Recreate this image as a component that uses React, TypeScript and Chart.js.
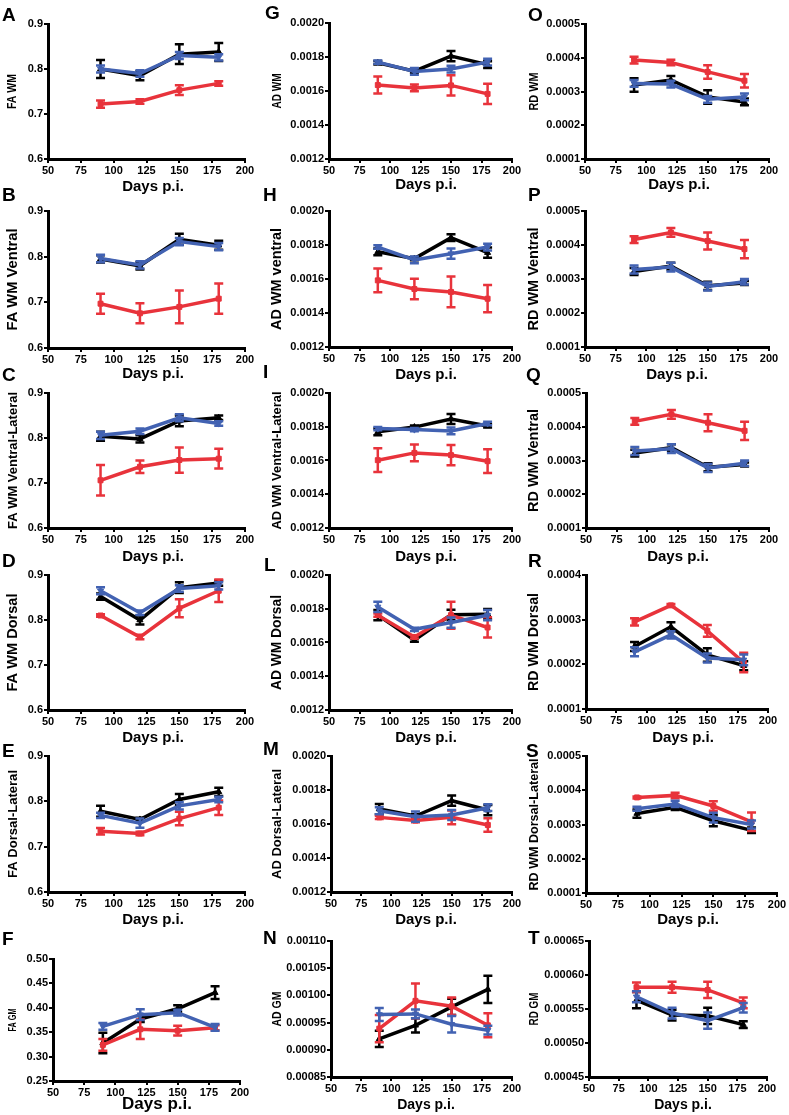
import React, { useEffect, useRef } from "react";
import { Chart, registerables } from "chart.js";
Chart.register(...registerables);

const FONT = "'Liberation Sans', Arial, Helvetica, sans-serif";
const BLACK = "#000000";
const RED = "#e8333b";
const BLUE = "#4262b2";

// ---------- shared axes ----------
const DAYS = [90, 120, 150, 180];
const X_TICKS = [50, 75, 100, 125, 150, 175, 200];
const X_TITLE = "Days p.i.";
const FA_TICKS = [0.6, 0.7, 0.8, 0.9];
const FA_GM_TICKS = [0.25, 0.3, 0.35, 0.4, 0.45, 0.5];
const AD_TICKS = [0.0012, 0.0014, 0.0016, 0.0018, 0.002];
const AD_GM_TICKS = [0.00085, 0.0009, 0.00095, 0.001, 0.00105, 0.0011];
const RD_TICKS = [0.0001, 0.0002, 0.0003, 0.0004, 0.0005];
const RD_DORSAL_TICKS = [0.0001, 0.0002, 0.0003, 0.0004];
const RD_GM_TICKS = [0.00045, 0.0005, 0.00055, 0.0006, 0.00065];

// ---------- FA ----------
const A_black = [0.8, 0.785, 0.833, 0.838];
const A_black_sem = [0.02, 0.01, 0.022, 0.02];
const A_red = [0.722, 0.728, 0.753, 0.768];
const A_red_sem = [0.008, 0.005, 0.011, 0.005];
const A_blue = [0.8, 0.79, 0.83, 0.826];
const A_blue_sem = [0.008, 0.007, 0.008, 0.007];

const B_black = [0.795, 0.78, 0.838, 0.825];
const B_black_sem = [0.008, 0.008, 0.012, 0.01];
const B_red = [0.697, 0.676, 0.69, 0.708];
const B_red_sem = [0.022, 0.022, 0.036, 0.033];
const B_blue = [0.796, 0.782, 0.833, 0.822];
const B_blue_sem = [0.008, 0.008, 0.008, 0.008];

const C_black = [0.804, 0.798, 0.838, 0.845];
const C_black_sem = [0.01, 0.008, 0.012, 0.005];
const C_red = [0.706, 0.736, 0.751, 0.754];
const C_red_sem = [0.034, 0.014, 0.028, 0.022];
const C_blue = [0.806, 0.815, 0.845, 0.832];
const C_blue_sem = [0.008, 0.006, 0.008, 0.005];

const D_black = [0.852, 0.8, 0.872, 0.882];
const D_black_sem = [0.007, 0.01, 0.012, 0.006];
const D_red = [0.81, 0.762, 0.826, 0.865];
const D_red_sem = [0.003, 0.005, 0.02, 0.025];
const D_blue = [0.865, 0.816, 0.87, 0.876];
const D_blue_sem = [0.008, 0.005, 0.007, 0.008];

const E_black = [0.778, 0.76, 0.804, 0.821];
const E_black_sem = [0.012, 0.004, 0.012, 0.009];
const E_red = [0.734, 0.729, 0.762, 0.786];
const E_red_sem = [0.007, 0.004, 0.015, 0.016];
const E_blue = [0.769, 0.752, 0.79, 0.804];
const E_blue_sem = [0.006, 0.01, 0.008, 0.006];

const F_black = [0.328, 0.377, 0.398, 0.431];
const F_black_sem = [0.021, 0.006, 0.007, 0.013];
const F_red = [0.324, 0.356, 0.353, 0.359];
const F_red_sem = [0.012, 0.02, 0.01, 0.005];
const F_blue = [0.362, 0.386, 0.39, 0.36];
const F_blue_sem = [0.007, 0.011, 0.006, 0.007];

// ---------- AD ----------
const G_black = [0.001766, 0.001717, 0.001805, 0.001755];
const G_black_sem = [0.00001, 0.00001, 0.00003, 0.00002];
const G_red = [0.001635, 0.001618, 0.001633, 0.001583];
const G_red_sem = [0.00005, 0.00002, 0.00006, 0.00006];
const G_blue = [0.00177, 0.001715, 0.001729, 0.00177];
const G_blue_sem = [0.00001, 0.00002, 0.00002, 0.00002];

const H_black = [0.00176, 0.00172, 0.001843, 0.001755];
const H_black_sem = [0.00002, 0.00001, 0.00002, 0.00003];
const H_red = [0.001592, 0.001541, 0.001524, 0.001484];
const H_red_sem = [0.00007, 0.00006, 0.00009, 0.00008];
const H_blue = [0.001788, 0.001712, 0.001749, 0.001788];
const H_blue_sem = [0.00001, 0.00002, 0.00003, 0.00002];

const I_black = [0.00177, 0.001798, 0.001846, 0.001805];
const I_black_sem = [0.00002, 0.00001, 0.00003, 0.00001];
const I_red = [0.001602, 0.001645, 0.001632, 0.001596];
const I_red_sem = [0.00007, 0.00005, 0.00006, 0.00007];
const I_blue = [0.001789, 0.001783, 0.001775, 0.001819];
const I_blue_sem = [0.00001, 0.00001, 0.00002, 0.00001];

const L_black = [0.001762, 0.001614, 0.001764, 0.001768];
const L_black_sem = [0.00003, 0.00001, 0.00003, 0.00003];
const L_red = [0.001762, 0.001633, 0.001762, 0.001689];
const L_red_sem = [0.00001, 0.00001, 0.00008, 0.00006];
const L_blue = [0.001811, 0.001678, 0.001718, 0.001762];
const L_blue_sem = [0.00003, 0.00001, 0.00003, 0.00003];

const M_black = [0.001688, 0.001647, 0.001737, 0.001682];
const M_black_sem = [0.00003, 0.00001, 0.00003, 0.00003];
const M_red = [0.001639, 0.00162, 0.001639, 0.001594];
const M_red_sem = [0.00001, 0.00001, 0.00004, 0.00004];
const M_blue = [0.001678, 0.001643, 0.001653, 0.001696];
const M_blue_sem = [0.00002, 0.00003, 0.00003, 0.00002];

const N_black = [0.00092, 0.000945, 0.000979, 0.001011];
const N_black_sem = [0.000015, 0.000013, 0.000015, 0.000025];
const N_red = [0.000939, 0.00099, 0.00098, 0.000945];
const N_red_sem = [0.000025, 0.000032, 0.000016, 0.000022];
const N_blue = [0.000965, 0.000966, 0.000947, 0.000936];
const N_blue_sem = [0.000012, 0.000008, 0.000015, 0.000008];

// ---------- RD ----------
const O_black = [0.000319, 0.000334, 0.000284, 0.000269];
const O_black_sem = [0.00002, 0.000012, 0.00002, 0.00001];
const O_red = [0.000393, 0.000386, 0.000358, 0.000332];
const O_red_sem = [0.00001, 0.000008, 0.00002, 0.00002];
const O_blue = [0.000324, 0.000322, 0.000277, 0.000284];
const O_blue_sem = [0.00001, 0.00001, 0.00001, 0.00001];

const P_black = [0.000322, 0.000338, 0.00028, 0.000288];
const P_black_sem = [0.00001, 0.00001, 0.000012, 0.000006];
const P_red = [0.000416, 0.000437, 0.000412, 0.000388];
const P_red_sem = [0.00001, 0.000013, 0.000025, 0.000027];
const P_blue = [0.000328, 0.000335, 0.000278, 0.000292];
const P_blue_sem = [0.000012, 0.000013, 0.000012, 0.000008];

const Q_black = [0.000322, 0.000338, 0.00028, 0.000288];
const Q_black_sem = [0.00001, 0.00001, 0.000012, 0.000006];
const Q_red = [0.000416, 0.000437, 0.000412, 0.000388];
const Q_red_sem = [0.00001, 0.000013, 0.000025, 0.000027];
const Q_blue = [0.000328, 0.000335, 0.000278, 0.000292];
const Q_blue_sem = [0.000012, 0.000013, 0.000012, 0.000008];

const R_black = [0.00024, 0.000284, 0.000221, 0.000197];
const R_black_sem = [0.00001, 0.00001, 0.000015, 0.00001];
const R_red = [0.000295, 0.000332, 0.000275, 0.000204];
const R_red_sem = [0.000008, 0.000003, 0.000013, 0.000022];
const R_blue = [0.000228, 0.000266, 0.000214, 0.00021];
const R_blue_sem = [0.00001, 0.000008, 0.00001, 0.000012];

const S_black = [0.000332, 0.00035, 0.000311, 0.000283];
const S_black_sem = [0.000012, 0.000008, 0.000016, 0.000008];
const S_red = [0.000379, 0.000385, 0.000354, 0.000308];
const S_red_sem = [0.000003, 0.000008, 0.000014, 0.000027];
const S_blue = [0.000346, 0.00036, 0.00032, 0.0003];
const S_blue_sem = [0.000006, 0.000009, 0.000014, 0.000012];

const T_black = [0.000563, 0.000541, 0.00054, 0.000527];
const T_black_sem = [0.000012, 0.000008, 0.000012, 0.000005];
const T_red = [0.000582, 0.000582, 0.000578, 0.000559];
const T_red_sem = [0.000007, 0.000008, 0.000012, 0.000008];
const T_blue = [0.000568, 0.000544, 0.000533, 0.000552];
const T_blue_sem = [0.000008, 0.000008, 0.000012, 0.000007];

// ---------- panel definitions (built from the arrays above) ----------
type PanelDef = {
  id: string;
  title: string;
  yTicks: number[];
  dec: number;
  black: number[]; blackSem: number[];
  red: number[]; redSem: number[];
  blue: number[]; blueSem: number[];
};

const PANELS: PanelDef[] = [
  { id: "A", title: "FA WM", yTicks: FA_TICKS, dec: 1, black: A_black, blackSem: A_black_sem, red: A_red, redSem: A_red_sem, blue: A_blue, blueSem: A_blue_sem },
  { id: "B", title: "FA WM Ventral", yTicks: FA_TICKS, dec: 1, black: B_black, blackSem: B_black_sem, red: B_red, redSem: B_red_sem, blue: B_blue, blueSem: B_blue_sem },
  { id: "C", title: "FA WM Ventral-Lateral", yTicks: FA_TICKS, dec: 1, black: C_black, blackSem: C_black_sem, red: C_red, redSem: C_red_sem, blue: C_blue, blueSem: C_blue_sem },
  { id: "D", title: "FA WM Dorsal", yTicks: FA_TICKS, dec: 1, black: D_black, blackSem: D_black_sem, red: D_red, redSem: D_red_sem, blue: D_blue, blueSem: D_blue_sem },
  { id: "E", title: "FA Dorsal-Lateral", yTicks: FA_TICKS, dec: 1, black: E_black, blackSem: E_black_sem, red: E_red, redSem: E_red_sem, blue: E_blue, blueSem: E_blue_sem },
  { id: "F", title: "FA GM", yTicks: FA_GM_TICKS, dec: 2, black: F_black, blackSem: F_black_sem, red: F_red, redSem: F_red_sem, blue: F_blue, blueSem: F_blue_sem },
  { id: "G", title: "AD WM", yTicks: AD_TICKS, dec: 4, black: G_black, blackSem: G_black_sem, red: G_red, redSem: G_red_sem, blue: G_blue, blueSem: G_blue_sem },
  { id: "H", title: "AD WM ventral", yTicks: AD_TICKS, dec: 4, black: H_black, blackSem: H_black_sem, red: H_red, redSem: H_red_sem, blue: H_blue, blueSem: H_blue_sem },
  { id: "I", title: "AD WM Ventral-Lateral", yTicks: AD_TICKS, dec: 4, black: I_black, blackSem: I_black_sem, red: I_red, redSem: I_red_sem, blue: I_blue, blueSem: I_blue_sem },
  { id: "L", title: "AD WM Dorsal", yTicks: AD_TICKS, dec: 4, black: L_black, blackSem: L_black_sem, red: L_red, redSem: L_red_sem, blue: L_blue, blueSem: L_blue_sem },
  { id: "M", title: "AD Dorsal-Lateral", yTicks: AD_TICKS, dec: 4, black: M_black, blackSem: M_black_sem, red: M_red, redSem: M_red_sem, blue: M_blue, blueSem: M_blue_sem },
  { id: "N", title: "AD GM", yTicks: AD_GM_TICKS, dec: 5, black: N_black, blackSem: N_black_sem, red: N_red, redSem: N_red_sem, blue: N_blue, blueSem: N_blue_sem },
  { id: "O", title: "RD WM", yTicks: RD_TICKS, dec: 4, black: O_black, blackSem: O_black_sem, red: O_red, redSem: O_red_sem, blue: O_blue, blueSem: O_blue_sem },
  { id: "P", title: "RD WM Ventral", yTicks: RD_TICKS, dec: 4, black: P_black, blackSem: P_black_sem, red: P_red, redSem: P_red_sem, blue: P_blue, blueSem: P_blue_sem },
  { id: "Q", title: "RD WM Ventral", yTicks: RD_TICKS, dec: 4, black: Q_black, blackSem: Q_black_sem, red: Q_red, redSem: Q_red_sem, blue: Q_blue, blueSem: Q_blue_sem },
  { id: "R", title: "RD WM Dorsal", yTicks: RD_DORSAL_TICKS, dec: 4, black: R_black, blackSem: R_black_sem, red: R_red, redSem: R_red_sem, blue: R_blue, blueSem: R_blue_sem },
  { id: "S", title: "RD WM Dorsal-Lateral", yTicks: RD_TICKS, dec: 4, black: S_black, blackSem: S_black_sem, red: S_red, redSem: S_red_sem, blue: S_blue, blueSem: S_blue_sem },
  { id: "T", title: "RD GM", yTicks: RD_GM_TICKS, dec: 5, black: T_black, blackSem: T_black_sem, red: T_red, redSem: T_red_sem, blue: T_blue, blueSem: T_blue_sem },
];

// ---------- layout (pixel geometry, kept apart from data) ----------
type Geo = {
  col: number; // column start x
  tc: number; // y-title centre x
  l: number; r: number; t: number; b: number; // chart area
  dx: number; dy: number; ds: number; // "Days p.i." centre and size
  ts: number; tl: number; // y title font size and drawn length
  lx: number; ly: number; // panel letter position (cap top)
};

const C1 = 0, C2 = 263, C3 = 526;
const T1 = 13, T2 = 277.5, T3 = 534.5;

const LAYOUT: Record<string, Geo> = {
  A: { col: C1, tc: T1, l: 48, r: 245, t: 24, b: 159, dx: 153, dy: 187, ds: 15, ts: 12, tl: 35, lx: 2, ly: 7 },
  B: { col: C1, tc: T1, l: 48, r: 245, t: 211, b: 348, dx: 153, dy: 374, ds: 15, ts: 14, tl: 102, lx: 2, ly: 187 },
  C: { col: C1, tc: T1, l: 48, r: 245, t: 393, b: 528, dx: 153, dy: 557, ds: 15, ts: 13, tl: 137, lx: 2, ly: 367 },
  D: { col: C1, tc: T1, l: 48, r: 245, t: 575, b: 710, dx: 153, dy: 738, ds: 15, ts: 14, tl: 98, lx: 2, ly: 553 },
  E: { col: C1, tc: T1, l: 48, r: 245, t: 756, b: 892, dx: 153, dy: 920, ds: 15, ts: 13, tl: 108, lx: 2, ly: 743 },
  F: { col: C1, tc: T1, l: 53, r: 240, t: 959, b: 1081, dx: 157, dy: 1104, ds: 17, ts: 11, tl: 23, lx: 2, ly: 931 },
  G: { col: C2, tc: T2, l: 329, r: 512, t: 23, b: 159, dx: 426, dy: 185, ds: 15, ts: 12, tl: 35, lx: 265, ly: 5 },
  H: { col: C2, tc: T2, l: 329, r: 512, t: 211, b: 347, dx: 426, dy: 375, ds: 15, ts: 14, tl: 102, lx: 263, ly: 187 },
  I: { col: C2, tc: T2, l: 329, r: 512, t: 393, b: 528, dx: 426, dy: 557, ds: 15, ts: 13, tl: 138, lx: 263, ly: 364 },
  L: { col: C2, tc: T2, l: 329, r: 512, t: 575, b: 710, dx: 426, dy: 738, ds: 15, ts: 14, tl: 95, lx: 264, ly: 557 },
  M: { col: C2, tc: T2, l: 331, r: 512, t: 756, b: 892, dx: 426, dy: 920, ds: 15, ts: 13, tl: 110, lx: 263, ly: 741 },
  N: { col: C2, tc: T2, l: 331, r: 512, t: 941, b: 1077, dx: 426, dy: 1105, ds: 14, ts: 12, tl: 35, lx: 263, ly: 930 },
  O: { col: C3, tc: T3, l: 585, r: 769, t: 24, b: 159, dx: 679, dy: 185, ds: 15, ts: 12, tl: 38, lx: 528, ly: 7 },
  P: { col: C3, tc: T3, l: 585, r: 769, t: 211, b: 347, dx: 677, dy: 375, ds: 15, ts: 14, tl: 103, lx: 528, ly: 187 },
  Q: { col: C3, tc: T3, l: 586, r: 769, t: 393, b: 528, dx: 678, dy: 557, ds: 15, ts: 14, tl: 103, lx: 526, ly: 367 },
  R: { col: C3, tc: T3, l: 586, r: 768, t: 575, b: 709, dx: 683, dy: 738, ds: 15, ts: 14, tl: 98, lx: 528, ly: 553 },
  S: { col: C3, tc: T3, l: 586, r: 777, t: 756, b: 893, dx: 688, dy: 920, ds: 15, ts: 12.5, tl: 132, lx: 526, ly: 743 },
  T: { col: C3, tc: T3, l: 589, r: 767, t: 941, b: 1077, dx: 683, dy: 1105, ds: 14, ts: 12, tl: 33, lx: 528, ly: 930 },
};

const PAD_TOP = 8;
const PAD_RIGHT = 12;

// ---------- error bar plugin ----------
const errorBarPlugin = {
  id: "errorBars",
  beforeDatasetDraw(chart: any, args: any) {
    const ds: any = chart.data.datasets[args.index];
    const sem: number[] | undefined = ds.sem;
    if (!sem) return;
    const yScale = chart.scales.y;
    const ctx = chart.ctx;
    ctx.save();
    ctx.strokeStyle = ds.borderColor;
    ctx.lineWidth = 2.5;
    ctx.lineCap = "butt";
    args.meta.data.forEach((pt: any, i: number) => {
      const v = ds.data[i].y;
      const e = sem[i];
      const yt = yScale.getPixelForValue(v + e);
      const yb = yScale.getPixelForValue(v - e);
      const x = pt.x;
      ctx.beginPath();
      ctx.moveTo(x, yt);
      ctx.lineTo(x, yb);
      ctx.moveTo(x - 4.5, yt);
      ctx.lineTo(x + 4.5, yt);
      ctx.moveTo(x - 4.5, yb);
      ctx.lineTo(x + 4.5, yb);
      ctx.stroke();
    });
    ctx.restore();
  },
};

function makeDataset(label: string, values: number[], sem: number[], color: string, style: string, rotation: number, order: number) {
  return {
    label,
    data: DAYS.map((d, i) => ({ x: d, y: values[i] })),
    sem,
    borderColor: color,
    backgroundColor: color,
    borderWidth: 3.5,
    pointRadius: 3.5,
    pointStyle: style,
    pointRotation: rotation,
    pointBorderWidth: 1,
    tension: 0,
    order,
    clip: false,
  };
}

function Panel({ p }: { p: PanelDef }) {
  const ref = useRef<HTMLCanvasElement | null>(null);
  const g = LAYOUT[p.id];
  const canvasTop = g.t - PAD_TOP;
  const width = g.r + PAD_RIGHT - g.col;
  const height = Math.ceil(g.dy + 0.6 * g.ds + 1 - canvasTop);
  const yWidth = g.l - g.col;
  const xHeight = canvasTop + height - g.b;

  useEffect(() => {
    if (!ref.current) return;
    const yMin = p.yTicks[0];
    const yMax = p.yTicks[p.yTicks.length - 1];
    const tickFont = { family: FONT, size: 11, weight: "bold" as const };

    // axis titles drawn as text on the canvas (y title condensed to the reference length)
    const titlePlugin = {
      id: "axisTitles",
      afterDraw(chart: any) {
        const ctx = chart.ctx;
        const area = chart.chartArea;
        ctx.save();
        ctx.fillStyle = "#000";
        ctx.textAlign = "center";
        ctx.textBaseline = "middle";
        // y title
        ctx.font = `bold ${g.ts}px ${FONT}`;
        const w = ctx.measureText(p.title).width;
        const k = w > 0 ? g.tl / w : 1;
        ctx.save();
        ctx.translate(g.tc - g.col, (area.top + area.bottom) / 2);
        ctx.rotate(-Math.PI / 2);
        ctx.scale(k, 1);
        ctx.fillText(p.title, 0, 0);
        ctx.restore();
        // x title
        ctx.font = `bold ${g.ds}px ${FONT}`;
        ctx.fillText(X_TITLE, g.dx - g.col, g.dy - canvasTop);
        ctx.restore();
      },
    };

    const chart = new Chart(ref.current, {
      type: "line",
      data: {
        datasets: [
          makeDataset("black", p.black, p.blackSem, BLACK, "triangle", 0, 2),
          makeDataset("red", p.red, p.redSem, RED, "rect", 0, 1),
          makeDataset("blue", p.blue, p.blueSem, BLUE, "triangle", 180, 0),
        ] as any,
      },
      options: {
        responsive: false,
        animation: false,
        events: [],
        layout: { padding: { left: 0, top: PAD_TOP, right: PAD_RIGHT, bottom: 0 } },
        plugins: {
          legend: { display: false },
          tooltip: { enabled: false },
        },
        scales: {
          x: {
            type: "linear",
            min: 50,
            max: 200,
            afterBuildTicks: (s: any) => {
              s.ticks = X_TICKS.map((v) => ({ value: v }));
            },
            afterFit: (s: any) => {
              s.height = xHeight;
            },
            ticks: {
              font: tickFont,
              color: "#000",
              padding: 1,
              maxRotation: 0,
              autoSkip: false,
              callback: (v: any) => String(v),
            },
            grid: {
              display: true,
              drawOnChartArea: false,
              drawTicks: true,
              tickLength: 4,
              color: "#000",
              lineWidth: 2,
            },
            border: { display: true, color: "#000", width: 3 },
            title: { display: false },
          },
          y: {
            type: "linear",
            min: yMin,
            max: yMax,
            afterBuildTicks: (s: any) => {
              s.ticks = p.yTicks.map((v) => ({ value: v }));
            },
            afterFit: (s: any) => {
              s.width = yWidth;
            },
            ticks: {
              font: tickFont,
              color: "#000",
              padding: 1,
              autoSkip: false,
              callback: (v: any) => Number(v).toFixed(p.dec),
            },
            grid: {
              display: true,
              drawOnChartArea: false,
              drawTicks: true,
              tickLength: 4,
              color: "#000",
              lineWidth: 2,
            },
            border: { display: true, color: "#000", width: 3 },
            title: { display: false },
          },
        },
      } as any,
      plugins: [errorBarPlugin, titlePlugin],
    });
    return () => chart.destroy();
  }, []);

  return (
    <canvas
      ref={ref}
      width={width}
      height={height}
      style={{
        position: "absolute",
        left: g.col,
        top: canvasTop,
        width,
        height,
      }}
    />
  );
}

export default function App() {
  return (
    <div
      style={{
        position: "absolute",
        left: 0,
        top: 0,
        width: 789,
        height: 1115,
        background: "#fff",
        overflow: "hidden",
      }}
    >
      {PANELS.map((p) => (
        <Panel key={p.id} p={p} />
      ))}
      {PANELS.map((p) => {
        const g = LAYOUT[p.id];
        return (
          <div
            key={"lbl" + p.id}
            style={{
              position: "absolute",
              left: g.lx,
              top: g.ly - 2.5,
              fontFamily: FONT,
              fontWeight: "bold",
              fontSize: 19,
              lineHeight: "19px",
              color: "#000",
            }}
          >
            {p.id}
          </div>
        );
      })}
    </div>
  );
}
